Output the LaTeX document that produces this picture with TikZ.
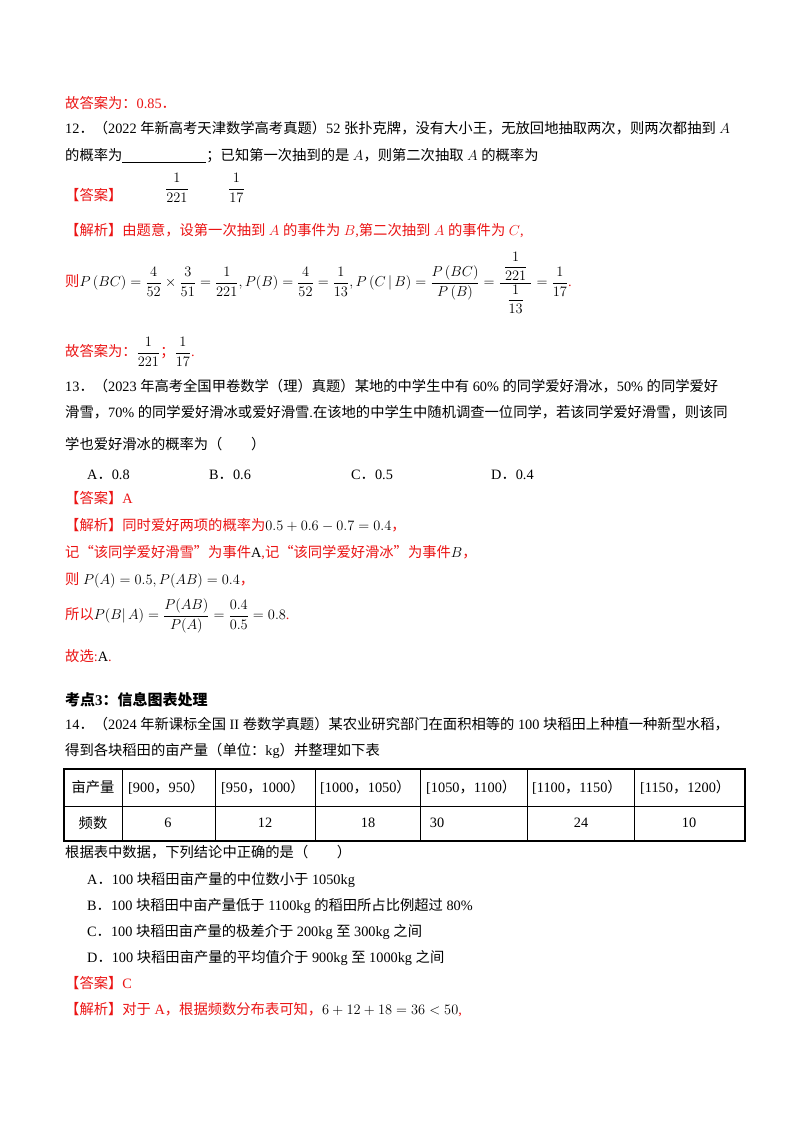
\documentclass[tikz,border=0pt]{standalone}
\usepackage{amsmath}
\usepackage{fontspec}
\setmainfont{Liberation Serif}
\newfontfamily\zh{Noto Sans CJK SC}
\newXeTeXintercharclass\cjkcls
\count255="4E00 \loop \XeTeXcharclass\count255=\cjkcls \advance\count255 1 \ifnum\count255<"9FFF \repeat
\count255="3000 \loop \XeTeXcharclass\count255=\cjkcls \advance\count255 1 \ifnum\count255<"3040 \repeat
\count255="FF00 \loop \XeTeXcharclass\count255=\cjkcls \advance\count255 1 \ifnum\count255<"FFF0 \repeat
\XeTeXcharclass"201C=\cjkcls \XeTeXcharclass"201D=\cjkcls
\XeTeXinterchartoks 0 \cjkcls = {\zh}
\XeTeXinterchartoks 4095 \cjkcls = {\zh}
\XeTeXinterchartoks \cjkcls 0 = {\rmfamily}
\XeTeXinterchartoks \cjkcls 4095 = {\rmfamily}
\XeTeXinterchartokenstate=1
\definecolor{ans}{RGB}{235,20,20}
\begin{document}
\begin{tikzpicture}[x=1pt,y=-1pt,
  tx/.style={anchor=base west,inner sep=0pt,font=\fontsize{14.3}{17}\selectfont},
  rd/.style={tx,text=ans},
  cell/.style={anchor=center,inner sep=0pt,font=\fontsize{14.3}{17}\selectfont}]
\useasboundingbox[fill=white] (0,0) rectangle (800,1132);
\node[rd] (l1) at (65,108) {故答案为：0.85．};
\node[tx] (l2) at (65,133) {12．（2022 年新高考天津数学高考真题）52 张扑克牌，没有大小王，无放回地抽取两次，则两次都抽到 $A$};
\node[tx] (l3) at (65,160) {的概率为\underline{\hspace{84pt}}；已知第一次抽到的是 $A$，则第二次抽取 $A$ 的概率为};
\node[rd] (l4) at (65,200) {【答案】};
\node[tx,anchor=west] (f1) at (165,188) {$\displaystyle\frac{1}{221}$};
\node[tx,anchor=west] (f2) at (228,188) {$\displaystyle\frac{1}{17}$};
\node[rd] (l5) at (65,235) {【解析】由题意，设第一次抽到 $A$ 的事件为 $B$,第二次抽到 $A$ 的事件为 $C$,};
\node[tx,anchor=west] (l6) at (65,283) {\textcolor{ans}{则}$\displaystyle P\left(BC\right)=\frac{4}{52}\times\frac{3}{51}=\frac{1}{221},P(B)=\frac{4}{52}=\frac{1}{13},P\left(C\,|\,B\right)=\frac{P\left(BC\right)}{P\left(B\right)}=\frac{\;\dfrac{1}{221}\;}{\dfrac{1}{13}}=\frac{1}{17}$\textcolor{ans}{.}};
\node[tx,anchor=west] (l7) at (65,352) {\textcolor{ans}{故答案为：}$\displaystyle\frac{1}{221}$\textcolor{ans}{；}$\displaystyle\frac{1}{17}$\textcolor{ans}{.}};
\node[tx] (l8) at (65,391) {13．（2023 年高考全国甲卷数学（理）真题）某地的中学生中有 60\% 的同学爱好滑冰，50\% 的同学爱好};
\node[tx] (l9) at (65,417) {滑雪，70\% 的同学爱好滑冰或爱好滑雪.在该地的中学生中随机调查一位同学，若该同学爱好滑雪，则该同};
\node[tx] (l10) at (65,449) {学也爱好滑冰的概率为（　　）};
\node[tx] (oa) at (87,479) {A．0.8};
\node[tx] (ob) at (209,479) {B．0.6};
\node[tx] (oc) at (351,479) {C．0.5};
\node[tx] (od) at (491,479) {D．0.4};
\node[rd] (l12) at (65,503) {【答案】A};
\node[tx] (l13) at (65,530) {\textcolor{ans}{【解析】同时爱好两项的概率为}$0.5+0.6-0.7=0.4$\textcolor{ans}{，}};
\node[tx] (l14) at (65,557) {\textcolor{ans}{记“该同学爱好滑雪”为事件}A\textcolor{ans}{,记“该同学爱好滑冰”为事件}$B$\textcolor{ans}{，}};
\node[tx] (l15) at (65,584) {\textcolor{ans}{则 }$P(A)=0.5,P(AB)=0.4$\textcolor{ans}{，}};
\node[tx,anchor=west] (l16) at (65,616) {\textcolor{ans}{所以}$\displaystyle P(B|\,A)=\frac{P(AB)}{P(A)}=\frac{0.4}{0.5}=0.8$\textcolor{ans}{.}};
\node[tx] (l17) at (65,661) {\textcolor{ans}{故选:}A\textcolor{ans}{.}};
\node[tx,font=\fontsize{15}{17}\selectfont\bfseries] (l18) at (65,705) {考点3：信息图表处理};
\node[tx] (l19) at (65,729) {14．（2024 年新课标全国 II 卷数学真题）某农业研究部门在面积相等的 100 块稻田上种植一种新型水稻，};
\node[tx] (l20) at (65,755) {得到各块稻田的亩产量（单位：kg）并整理如下表};
\draw[line width=1.3pt] (64,769) rectangle (745,841);
\draw[line width=0.9pt] (64,806) -- (745,806);
\foreach \x in {122,215,315,420,527,634} \draw[line width=0.9pt] (\x,769) -- (\x,841);
\node[cell] (h0) at (93,787) {亩产量};
\node[cell,anchor=west] (h1) at (128,787) {[900，950）};
\node[cell,anchor=west] (h2) at (221,787) {[950，1000）};
\node[cell,anchor=west] (h3) at (320,787) {[1000，1050）};
\node[cell,anchor=west] (h4) at (426,787) {[1050，1100）};
\node[cell,anchor=west] (h5) at (532,787) {[1100，1150）};
\node[cell,anchor=west] (h6) at (640,787) {[1150，1200）};
\node[cell] (r0) at (93,823) {频数};
\node[cell] (r1) at (168,823) {6};
\node[cell] (r2) at (265,823) {12};
\node[cell] (r3) at (368,823) {18};
\node[cell] (r4) at (437,823) {30};
\node[cell] (r5) at (581,823) {24};
\node[cell] (r6) at (689,823) {10};
\node[tx] (l21) at (65,857) {根据表中数据，下列结论中正确的是（　　）};
\node[tx] (qa) at (87,884) {A．100 块稻田亩产量的中位数小于 1050kg};
\node[tx] (qb) at (87,910) {B．100 块稻田中亩产量低于 1100kg 的稻田所占比例超过 80\%};
\node[tx] (qc) at (87,936) {C．100 块稻田亩产量的极差介于 200kg 至 300kg 之间};
\node[tx] (qd) at (87,962) {D．100 块稻田亩产量的平均值介于 900kg 至 1000kg 之间};
\node[rd] (l26) at (65,988) {【答案】C};
\node[tx] (l27) at (65,1014) {\textcolor{ans}{【解析】对于 A，根据频数分布表可知，}$6+12+18=36<50$\textcolor{ans}{,}};
\end{tikzpicture}
\end{document}
